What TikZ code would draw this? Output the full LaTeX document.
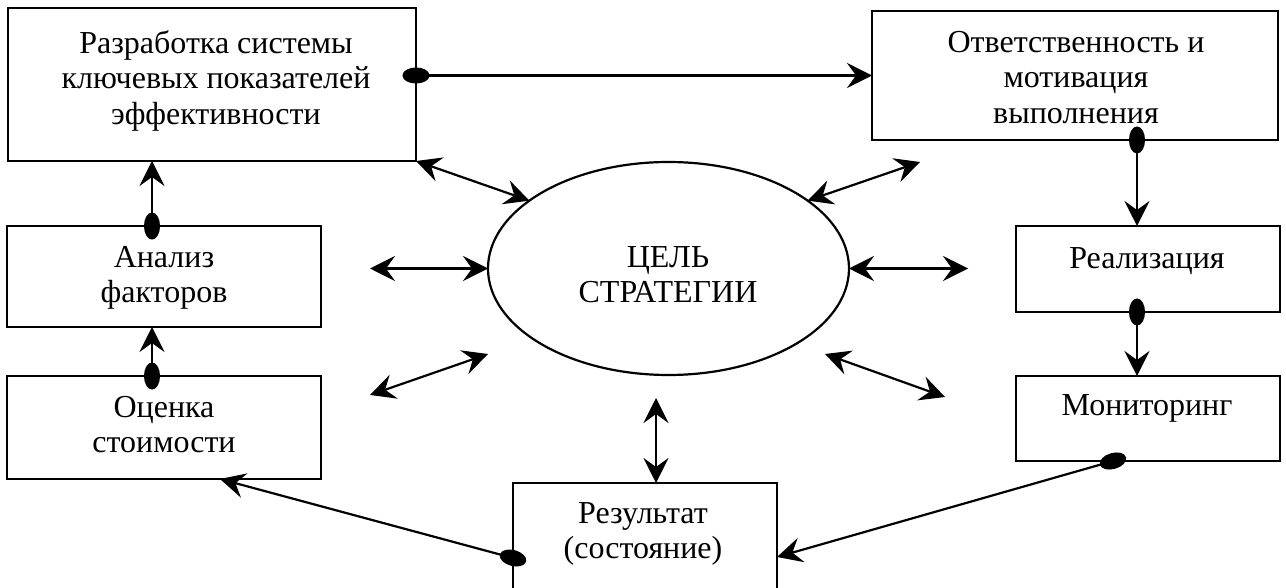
\documentclass[tikz,border=0pt]{standalone}
\usepackage{fontspec}
\setmainfont{Liberation Serif}
\usetikzlibrary{arrows.meta,shapes.geometric}

\newcommand\firstline{\rule{0pt}{24pt}}

\tikzset{
  tipA/.tip={Stealth[length=25pt,width=25pt,inset=9pt]},
  dotA/.tip={Ellipse[length=27pt,width=16pt]},
  box/.style={draw, rectangle, line width=2.2pt, inner sep=0pt, outer sep=0pt},
  goalshape/.style={draw, ellipse, line width=2.2pt, inner sep=0pt, outer sep=0pt},
  txt/.style={font=\fontsize{32}{35.5}\selectfont, align=center, anchor=north, inner sep=0pt},
  flow/.style={line width=2.2pt, dotA-tipA, shorten <=-13.5pt},
  link/.style={line width=2.2pt, tipA-tipA},
}

\begin{document}
\begin{tikzpicture}[x=1pt,y=-1pt]
\clip (0,0) rectangle (1286,588);
\fill[white] (0,0) rectangle (1286,588);

% blocks
\node[box, minimum width=408pt, minimum height=153pt] (kpi)  at (212,84.5)   {};
\node[box, minimum width=406pt, minimum height=129pt] (resp) at (1075,75.5)  {};
\node[box, minimum width=314pt, minimum height=101pt] (anal) at (164,276.5)  {};
\node[box, minimum width=314pt, minimum height=103pt] (cost) at (164,427.5)  {};
\node[box, minimum width=264pt, minimum height=86pt]  (impl) at (1148,269)   {};
\node[box, minimum width=264pt, minimum height=85pt]  (mon)  at (1148,418.5) {};
\node[box, minimum width=264pt, minimum height=157pt] (res)  at (645,561.5)  {};
\node[goalshape, minimum width=361pt, minimum height=213pt] (goal) at (668.5,268.5) {};

% block texts (y = first baseline - 24)
\node[txt] (kpiT)  at (216,29)   {\firstline Разработка системы\\ключевых показателей\\эффективности};
\node[txt] (respT) at (1076,28)  {\firstline Ответственность и\\мотивация\\выполнения};
\node[txt] (analT) at (164,243)  {\firstline Анализ\\факторов};
\node[txt] (costT) at (164,393)  {\firstline Оценка\\стоимости};
\node[txt] (implT) at (1147,244) {\firstline Реализация};
\node[txt] (monT)  at (1147,391) {\firstline Мониторинг};
\node[txt] (resT)  at (643,499)  {\firstline Результат\\(состояние)};
\node[txt] (goalT) at (668,243)  {\firstline ЦЕЛЬ\\СТРАТЕГИИ};

% free ends of the two-way links
\coordinate (pA)   at (920,162);
\coordinate (pL)   at (370,268.5);
\coordinate (pR)   at (968,268.5);
\coordinate (pLL1) at (370,395);
\coordinate (pLL2) at (488,354);
\coordinate (pLR1) at (825,354);
\coordinate (pLR2) at (945,397);
\coordinate (pB)   at (656,398);

% two-way links around the goal
\draw[link] (kpi.south east) -- (goal.154);
\draw[link] (goal.26) -- (pA);
\draw[link] (pL) -- (goal.west);
\draw[link] (goal.east) -- (pR);
\draw[link] (pLL1) -- (pLL2);
\draw[link] (pLR1) -- (pLR2);
\draw[link] (pB) -- ([xshift=11pt]res.north);

% process cycle
\draw[flow] ([yshift=9pt]kpi.east) -- (resp.west);
\draw[flow] ([xshift=62pt]resp.south) -- ([xshift=-11pt]impl.north);
\draw[flow] ([xshift=-11pt]impl.south) -- ([xshift=-11pt]mon.north);
\draw[flow] ([xshift=-35pt]mon.south) -- ([yshift=4.5pt]res.east);
\draw[flow] ([yshift=3.5pt]res.west) -- ([xshift=56pt]cost.south);
\draw[flow] ([xshift=-12pt]cost.north) -- ([xshift=-12pt]anal.south);
\draw[flow] ([xshift=-12pt]anal.north) -- ([xshift=-60pt]kpi.south);
\end{tikzpicture}
\end{document}
